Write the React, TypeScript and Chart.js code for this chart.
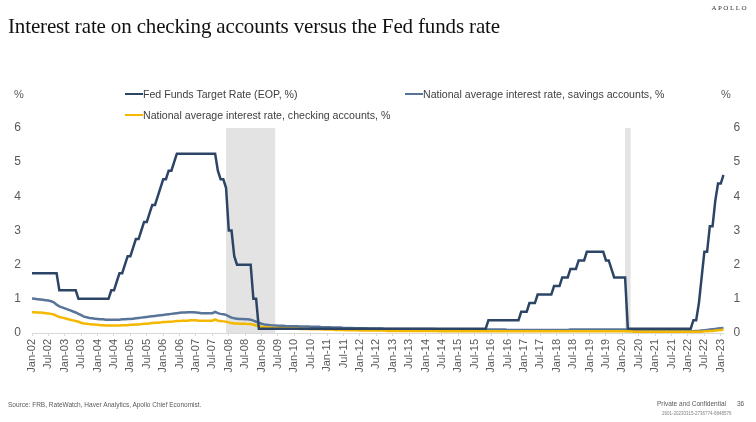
import React, { useEffect, useRef } from "react";
import { Chart, registerables } from "chart.js";

Chart.register(...registerables);

// Month categories, Jan-02 through Feb-23
const MONTHS = ["Jan", "Feb", "Mar", "Apr", "May", "Jun", "Jul", "Aug", "Sep", "Oct", "Nov", "Dec"];
const START_YEAR = 2002;
const MONTH_COUNT = 254;
const monthLabels: string[] = Array.from({ length: MONTH_COUNT }, (_, i) => {
  const yy = String((START_YEAR + Math.floor(i / 12)) % 100).padStart(2, "0");
  return `${MONTHS[i % 12]}-${yy}`;
});

// Fed funds target rate, end of period, % (range midpoint after Dec-08)
const fedFunds: number[] = [
  1.75, 1.75, 1.75, 1.75, 1.75, 1.75, 1.75, 1.75, 1.75, 1.75, 1.25, 1.25, // 2002
  1.25, 1.25, 1.25, 1.25, 1.25, 1, 1, 1, 1, 1, 1, 1, // 2003
  1, 1, 1, 1, 1, 1.25, 1.25, 1.5, 1.75, 1.75, 2, 2.25, // 2004
  2.25, 2.5, 2.75, 2.75, 3, 3.25, 3.25, 3.5, 3.75, 3.75, 4, 4.25, // 2005
  4.5, 4.5, 4.75, 4.75, 5, 5.25, 5.25, 5.25, 5.25, 5.25, 5.25, 5.25, // 2006
  5.25, 5.25, 5.25, 5.25, 5.25, 5.25, 5.25, 5.25, 4.75, 4.5, 4.5, 4.25, // 2007
  3, 3, 2.25, 2, 2, 2, 2, 2, 2, 1, 1, 0.125, // 2008
  0.125, 0.125, 0.125, 0.125, 0.125, 0.125, 0.125, 0.125, 0.125, 0.125, 0.125, 0.125, // 2009
  0.125, 0.125, 0.125, 0.125, 0.125, 0.125, 0.125, 0.125, 0.125, 0.125, 0.125, 0.125, // 2010
  0.125, 0.125, 0.125, 0.125, 0.125, 0.125, 0.125, 0.125, 0.125, 0.125, 0.125, 0.125, // 2011
  0.125, 0.125, 0.125, 0.125, 0.125, 0.125, 0.125, 0.125, 0.125, 0.125, 0.125, 0.125, // 2012
  0.125, 0.125, 0.125, 0.125, 0.125, 0.125, 0.125, 0.125, 0.125, 0.125, 0.125, 0.125, // 2013
  0.125, 0.125, 0.125, 0.125, 0.125, 0.125, 0.125, 0.125, 0.125, 0.125, 0.125, 0.125, // 2014
  0.125, 0.125, 0.125, 0.125, 0.125, 0.125, 0.125, 0.125, 0.125, 0.125, 0.125, 0.375, // 2015
  0.375, 0.375, 0.375, 0.375, 0.375, 0.375, 0.375, 0.375, 0.375, 0.375, 0.375, 0.625, // 2016
  0.625, 0.625, 0.875, 0.875, 0.875, 1.125, 1.125, 1.125, 1.125, 1.125, 1.125, 1.375, // 2017
  1.375, 1.375, 1.625, 1.625, 1.625, 1.875, 1.875, 1.875, 2.125, 2.125, 2.125, 2.375, // 2018
  2.375, 2.375, 2.375, 2.375, 2.375, 2.375, 2.125, 2.125, 1.875, 1.625, 1.625, 1.625, // 2019
  1.625, 1.625, 0.125, 0.125, 0.125, 0.125, 0.125, 0.125, 0.125, 0.125, 0.125, 0.125, // 2020
  0.125, 0.125, 0.125, 0.125, 0.125, 0.125, 0.125, 0.125, 0.125, 0.125, 0.125, 0.125, // 2021
  0.125, 0.125, 0.375, 0.375, 0.875, 1.625, 2.375, 2.375, 3.125, 3.125, 3.875, 4.375, // 2022
  4.375, 4.625, // 2023
];

// National average interest rate, savings accounts, %
const savingsRate: number[] = [
  1.01, 1.0, 0.99, 0.98, 0.97, 0.96, 0.95, 0.93, 0.9, 0.83, 0.78, 0.75, // 2002
  0.72, 0.69, 0.66, 0.63, 0.6, 0.56, 0.52, 0.48, 0.46, 0.44, 0.43, 0.42, // 2003
  0.41, 0.4, 0.4, 0.39, 0.39, 0.39, 0.39, 0.39, 0.39, 0.4, 0.4, 0.41, // 2004
  0.41, 0.42, 0.43, 0.44, 0.45, 0.46, 0.47, 0.48, 0.49, 0.5, 0.51, 0.52, // 2005
  0.53, 0.54, 0.55, 0.56, 0.57, 0.58, 0.59, 0.6, 0.6, 0.61, 0.61, 0.61, // 2006
  0.6, 0.59, 0.58, 0.58, 0.58, 0.58, 0.58, 0.62, 0.58, 0.56, 0.55, 0.53, // 2007
  0.49, 0.45, 0.43, 0.42, 0.41, 0.41, 0.4, 0.4, 0.39, 0.36, 0.33, 0.3, // 2008
  0.27, 0.25, 0.24, 0.23, 0.22, 0.22, 0.21, 0.21, 0.21, 0.2, 0.2, 0.2, // 2009
  0.2, 0.2, 0.19, 0.19, 0.19, 0.19, 0.18, 0.18, 0.18, 0.18, 0.17, 0.17, // 2010
  0.17, 0.17, 0.16, 0.16, 0.16, 0.16, 0.15, 0.15, 0.15, 0.15, 0.14, 0.14, // 2011
  0.14, 0.14, 0.14, 0.13, 0.13, 0.13, 0.13, 0.13, 0.13, 0.12, 0.12, 0.12, // 2012
  0.12, 0.12, 0.12, 0.12, 0.12, 0.12, 0.12, 0.12, 0.12, 0.12, 0.12, 0.12, // 2013
  0.12, 0.12, 0.12, 0.12, 0.11, 0.11, 0.11, 0.11, 0.11, 0.11, 0.11, 0.11, // 2014
  0.11, 0.11, 0.11, 0.11, 0.11, 0.11, 0.1, 0.1, 0.1, 0.1, 0.1, 0.1, // 2015
  0.1, 0.1, 0.1, 0.1, 0.1, 0.1, 0.09, 0.09, 0.09, 0.09, 0.09, 0.09, // 2016
  0.09, 0.09, 0.09, 0.09, 0.09, 0.09, 0.09, 0.09, 0.09, 0.09, 0.09, 0.09, // 2017
  0.09, 0.09, 0.09, 0.09, 0.09, 0.1, 0.1, 0.1, 0.1, 0.1, 0.1, 0.1, // 2018
  0.1, 0.1, 0.1, 0.1, 0.1, 0.1, 0.1, 0.1, 0.1, 0.1, 0.1, 0.1, // 2019
  0.1, 0.1, 0.09, 0.08, 0.08, 0.07, 0.07, 0.07, 0.06, 0.06, 0.06, 0.06, // 2020
  0.06, 0.06, 0.06, 0.06, 0.06, 0.06, 0.05, 0.05, 0.05, 0.05, 0.05, 0.05, // 2021
  0.05, 0.05, 0.05, 0.06, 0.06, 0.07, 0.08, 0.09, 0.1, 0.11, 0.12, 0.13, // 2022
  0.14, 0.15, // 2023
];

// National average interest rate, checking accounts, %
const checkingRate: number[] = [
  0.61, 0.61, 0.6, 0.6, 0.59, 0.58, 0.57, 0.56, 0.54, 0.5, 0.47, 0.45, // 2002
  0.43, 0.41, 0.39, 0.37, 0.35, 0.33, 0.3, 0.28, 0.27, 0.26, 0.25, 0.25, // 2003
  0.24, 0.23, 0.23, 0.22, 0.22, 0.22, 0.22, 0.22, 0.22, 0.23, 0.23, 0.23, // 2004
  0.24, 0.24, 0.25, 0.25, 0.26, 0.27, 0.27, 0.28, 0.29, 0.3, 0.3, 0.31, // 2005
  0.32, 0.32, 0.33, 0.33, 0.34, 0.35, 0.35, 0.36, 0.36, 0.36, 0.37, 0.37, // 2006
  0.37, 0.36, 0.36, 0.36, 0.36, 0.36, 0.36, 0.4, 0.36, 0.35, 0.34, 0.33, // 2007
  0.31, 0.29, 0.28, 0.28, 0.27, 0.27, 0.27, 0.26, 0.26, 0.24, 0.22, 0.2, // 2008
  0.18, 0.17, 0.16, 0.16, 0.15, 0.15, 0.15, 0.14, 0.14, 0.14, 0.13, 0.13, // 2009
  0.13, 0.13, 0.12, 0.12, 0.12, 0.12, 0.11, 0.11, 0.11, 0.11, 0.11, 0.1, // 2010
  0.1, 0.1, 0.1, 0.09, 0.09, 0.09, 0.09, 0.08, 0.08, 0.08, 0.08, 0.08, // 2011
  0.07, 0.07, 0.07, 0.07, 0.07, 0.07, 0.07, 0.07, 0.07, 0.07, 0.06, 0.06, // 2012
  0.06, 0.06, 0.06, 0.06, 0.06, 0.06, 0.06, 0.06, 0.06, 0.06, 0.06, 0.06, // 2013
  0.06, 0.06, 0.06, 0.06, 0.06, 0.05, 0.05, 0.05, 0.05, 0.05, 0.05, 0.05, // 2014
  0.05, 0.05, 0.05, 0.05, 0.05, 0.05, 0.05, 0.05, 0.05, 0.05, 0.05, 0.05, // 2015
  0.05, 0.05, 0.05, 0.05, 0.05, 0.05, 0.05, 0.05, 0.05, 0.05, 0.05, 0.05, // 2016
  0.05, 0.05, 0.05, 0.05, 0.05, 0.05, 0.05, 0.05, 0.05, 0.05, 0.05, 0.05, // 2017
  0.05, 0.05, 0.05, 0.05, 0.05, 0.05, 0.05, 0.05, 0.05, 0.05, 0.05, 0.05, // 2018
  0.05, 0.05, 0.05, 0.05, 0.05, 0.05, 0.05, 0.05, 0.05, 0.05, 0.05, 0.05, // 2019
  0.05, 0.05, 0.05, 0.05, 0.04, 0.04, 0.04, 0.04, 0.04, 0.04, 0.04, 0.04, // 2020
  0.04, 0.04, 0.04, 0.04, 0.04, 0.04, 0.04, 0.04, 0.04, 0.04, 0.04, 0.04, // 2021
  0.04, 0.04, 0.04, 0.04, 0.04, 0.04, 0.05, 0.05, 0.06, 0.06, 0.07, 0.08, // 2022
  0.09, 0.1, // 2023
];

// NBER recessions (shaded)
const recessionStarts = ["Dec-07", "Feb-20"];
const recessionEnds = ["Jun-09", "Apr-20"];

const FED_COLOR = "#2c4566";
const SAVINGS_COLOR = "#587498";
const CHECKING_COLOR = "#f5b800";
const TICK_COLOR = "#595959";
const SANS = "'Liberation Sans', Arial, sans-serif";

const recessionPlugin = {
  id: "recessionBands",
  beforeDatasetsDraw(chart: any) {
    const { ctx, chartArea, scales } = chart;
    const x = scales.x;
    ctx.save();
    ctx.fillStyle = "#e3e3e3";
    recessionStarts.forEach((s, i) => {
      const x0 = x.getPixelForValue(monthLabels.indexOf(s));
      const x1 = x.getPixelForValue(monthLabels.indexOf(recessionEnds[i]));
      ctx.fillRect(x0, chartArea.top, x1 - x0, chartArea.bottom - chartArea.top);
    });
    ctx.restore();
  },
};

const legendItems = [
  { label: "Fed Funds Target Rate (EOP, %)", color: FED_COLOR, left: 125, top: 88 },
  { label: "National average interest rate, savings accounts, %", color: SAVINGS_COLOR, left: 405, top: 88 },
  { label: "National average interest rate, checking accounts, %", color: CHECKING_COLOR, left: 125, top: 109 },
];

export default function App() {
  const canvasRef = useRef<HTMLCanvasElement>(null);

  useEffect(() => {
    const canvas = canvasRef.current;
    if (!canvas) return;
    const chart = new Chart(canvas, {
      type: "line",
      data: {
        labels: monthLabels,
        datasets: [
          {
            label: "Fed Funds Target Rate (EOP, %)",
            data: fedFunds,
            borderColor: FED_COLOR,
            borderWidth: 2.5,
            pointRadius: 0,
            tension: 0,
            order: 0,
          },
          {
            label: "National average interest rate, checking accounts, %",
            data: checkingRate,
            borderColor: CHECKING_COLOR,
            borderWidth: 2.5,
            pointRadius: 0,
            tension: 0,
            order: 1,
          },
          {
            label: "National average interest rate, savings accounts, %",
            data: savingsRate,
            borderColor: SAVINGS_COLOR,
            borderWidth: 2.5,
            pointRadius: 0,
            tension: 0,
            order: 2,
          },
        ],
      },
      options: {
        responsive: false,
        devicePixelRatio: 1,
        animation: false,
        layout: { padding: { top: 128, left: 0, right: 0, bottom: 0 } },
        plugins: {
          legend: { display: false },
          tooltip: { enabled: false },
          title: { display: false },
        },
        scales: {
          x: {
            type: "category",
            offset: false,
            grid: { display: true, drawOnChartArea: false, drawTicks: true, tickLength: 3, color: "#d9d9d9" },
            border: { display: true, color: "#d9d9d9", width: 1 },
            ticks: {
              autoSkip: false,
              minRotation: 90,
              maxRotation: 90,
              padding: 3,
              color: TICK_COLOR,
              font: { family: SANS, size: 11 },
              callback: (_v: any, i: number) => (i % 6 === 0 ? monthLabels[i] : null),
            },
            afterFit: (s: any) => {
              s.height = 89;
            },
          },
          y: {
            position: "left",
            min: 0,
            max: 6,
            grid: { display: false, drawTicks: false },
            border: { display: false },
            ticks: { stepSize: 1, padding: 11, color: TICK_COLOR, font: { family: SANS, size: 12 } },
            afterFit: (s: any) => {
              s.width = 32;
            },
          },
          y2: {
            position: "right",
            min: 0,
            max: 6,
            grid: { display: false, drawTicks: false },
            border: { display: false },
            ticks: { stepSize: 1, padding: 10, color: TICK_COLOR, font: { family: SANS, size: 12 } },
            afterFit: (s: any) => {
              s.width = 32.5;
            },
          },
        },
      },
      plugins: [recessionPlugin],
    });
    return () => chart.destroy();
  }, []);

  return (
    <div
      style={{
        position: "fixed",
        left: 0,
        top: 0,
        width: 756,
        height: 422,
        background: "#ffffff",
        overflow: "hidden",
      }}
    >
      <canvas ref={canvasRef} width={756} height={422} style={{ position: "absolute", left: 0, top: 0 }} />
      <div
        style={{
          position: "absolute",
          right: 8,
          top: 4,
          fontFamily: "'Liberation Serif', serif",
          fontSize: 7,
          letterSpacing: 1.5,
          color: "#333",
        }}
      >
        APOLLO
      </div>
      <div
        style={{
          position: "absolute",
          left: 8,
          top: 14,
          fontFamily: "'Liberation Serif', serif",
          fontSize: 21,
          letterSpacing: -0.15,
          color: "#111111",
          whiteSpace: "nowrap",
        }}
      >
        Interest rate on checking accounts versus the Fed funds rate
      </div>
      <div style={{ position: "absolute", left: 14, top: 88, fontFamily: SANS, fontSize: 11, color: TICK_COLOR }}>%</div>
      <div style={{ position: "absolute", left: 721, top: 88, fontFamily: SANS, fontSize: 11, color: TICK_COLOR }}>%</div>
      {legendItems.map((it) => (
        <div
          key={it.label}
          style={{
            position: "absolute",
            left: it.left,
            top: it.top,
            display: "flex",
            alignItems: "center",
            fontFamily: SANS,
            fontSize: 10.6,
            color: "#404040",
            whiteSpace: "nowrap",
          }}
        >
          <span style={{ display: "inline-block", width: 18, height: 2, background: it.color }} />
          <span>{it.label}</span>
        </div>
      ))}
      <div
        style={{
          position: "absolute",
          left: 8,
          top: 401,
          fontFamily: SANS,
          fontSize: 6.5,
          color: "#595959",
        }}
      >
        Source: FRB, RateWatch, Haver Analytics, Apollo Chief Economist.
      </div>
      <div
        style={{
          position: "absolute",
          left: 657,
          top: 400,
          fontFamily: SANS,
          fontSize: 6.5,
          color: "#595959",
          whiteSpace: "nowrap",
        }}
      >
        Private and Confidential
      </div>
      <div style={{ position: "absolute", left: 737, top: 400, fontFamily: SANS, fontSize: 6.5, color: "#595959" }}>36</div>
      <div
        style={{
          position: "absolute",
          left: 662,
          top: 411,
          fontFamily: SANS,
          fontSize: 4.5,
          color: "#808080",
          whiteSpace: "nowrap",
        }}
      >
        2601-20230315-2736774-6848576
      </div>
    </div>
  );
}
